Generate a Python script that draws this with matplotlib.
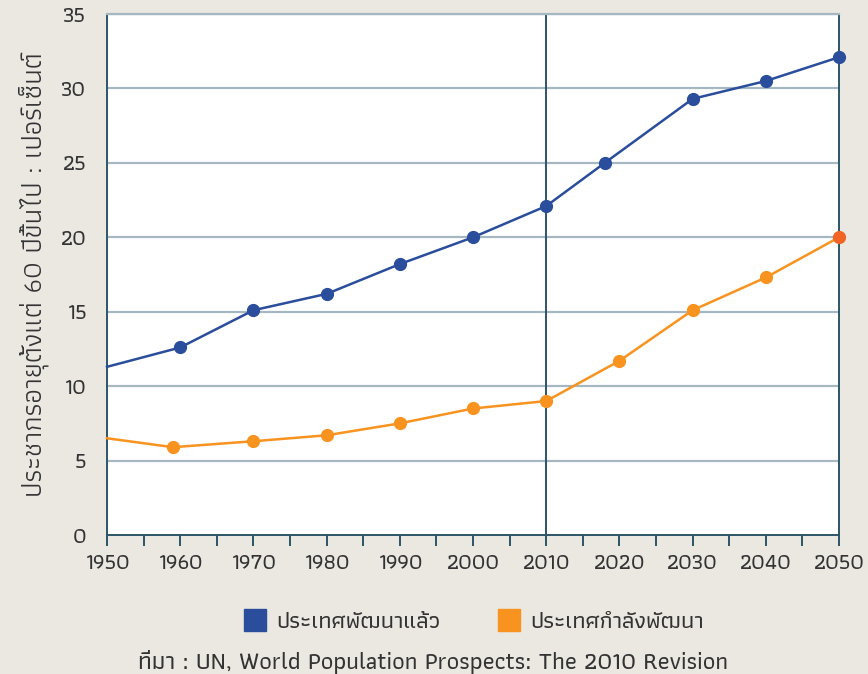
import matplotlib
matplotlib.use('Agg')
import matplotlib.pyplot as plt
from matplotlib.lines import Line2D

# Athiti covers Thai and has a wide geometric Latin, close to the original
plt.rcParams['font.family'] = ['Athiti', 'DejaVu Sans']
plt.rcParams['font.weight'] = 'medium'

# Data (percent of population aged 60+)
developed_years = [1950, 1960, 1970, 1980, 1990, 2000, 2010, 2018, 2030, 2040, 2050]
developed_pct = [11.3, 12.6, 15.1, 16.2, 18.2, 20.0, 22.1, 25.0, 29.3, 30.5, 32.1]
developing_years = [1950, 1959, 1970, 1980, 1990, 2000, 2010, 2020, 2030, 2040, 2050]
developing_pct = [6.5, 5.9, 6.3, 6.7, 7.5, 8.5, 9.0, 11.7, 15.1, 17.3, 20.0]

x_ticks = list(range(1950, 2051, 10))
y_ticks = list(range(0, 36, 5))

label_developed = 'ประเทศพัฒนาแล้ว'
label_developing = 'ประเทศกำลังพัฒนา'
y_label = 'ประชากรอายุตั้งแต่ 60 ปีขึ้นไป : เปอร์เซ็นต์'
source_text = 'ที่มา : UN, World Population Prospects: The 2010 Revision'

bg = '#ebe8e2'
blue = '#2a4d9c'
orange = '#f7931e'
teal = '#2b5667'
grid_col = '#a5b7c0'
text_col = '#333333'

fig = plt.figure(figsize=(8.68, 6.74), dpi=100, facecolor=bg)
ax = fig.add_axes([0.1233, 0.2062, 0.8433, 0.7730])
ax.set_facecolor('white')

# horizontal gridlines
for yv in y_ticks[1:]:
    ax.axhline(yv, color=grid_col, linewidth=1.6, zorder=1)
# vertical divider at 2010
ax.axvline(2010, color=teal, linewidth=1.4, zorder=1)

ax.plot(developed_years, developed_pct, color=blue, linewidth=1.8, marker='o',
        markersize=8.5, markevery=list(range(1, len(developed_years))), zorder=3, clip_on=False)
ax.plot(developing_years, developing_pct, color=orange, linewidth=1.8, marker='o',
        markersize=8.5, markevery=list(range(1, len(developing_years) - 1)), zorder=3, clip_on=False)
# last developing point is drawn in a redder orange
ax.plot(developing_years[-1:], developing_pct[-1:], 'o', color='#f26424', markersize=8.5,
        zorder=4, clip_on=False)

ax.set_xlim(1950, 2050)
ax.set_ylim(0, 35)
ax.set_xticks(x_ticks)
ax.set_xticks(list(range(1955, 2050, 10)), minor=True)
ax.set_yticks(y_ticks)
ax.set_xticklabels([str(v) for v in x_ticks], fontsize=16, color=text_col)
ax.set_yticklabels([str(v) for v in y_ticks], fontsize=16, color=text_col)
ax.tick_params(axis='x', which='both', direction='out', length=8, width=1.4, color=teal, pad=6)
ax.tick_params(axis='y', length=0, pad=15)
ax.xaxis.get_major_ticks()[0].tick1line.set_color('#f08060')

for side in ['left', 'bottom', 'right']:
    ax.spines[side].set_color(teal)
    ax.spines[side].set_linewidth(1.4)
ax.spines['top'].set_color(grid_col)
ax.spines['top'].set_linewidth(1.6)

ax.set_ylabel(y_label, fontsize=20, color=text_col, labelpad=8)

handles = [Line2D([], [], marker='s', linestyle='none', markersize=16, color=blue),
           Line2D([], [], marker='s', linestyle='none', markersize=16, color=orange)]
fig.legend(handles, [label_developed, label_developing], loc='center',
           bbox_to_anchor=(0.5455, 0.077), ncol=2, frameon=False, fontsize=16.8,
           handlelength=1.0, handletextpad=0.4, columnspacing=2.45, labelcolor=text_col)

fig.text(0.499, 0.018, source_text, ha='center', va='center', fontsize=17.5, color=text_col)

fig.savefig('out.png', dpi=100, facecolor=bg)
